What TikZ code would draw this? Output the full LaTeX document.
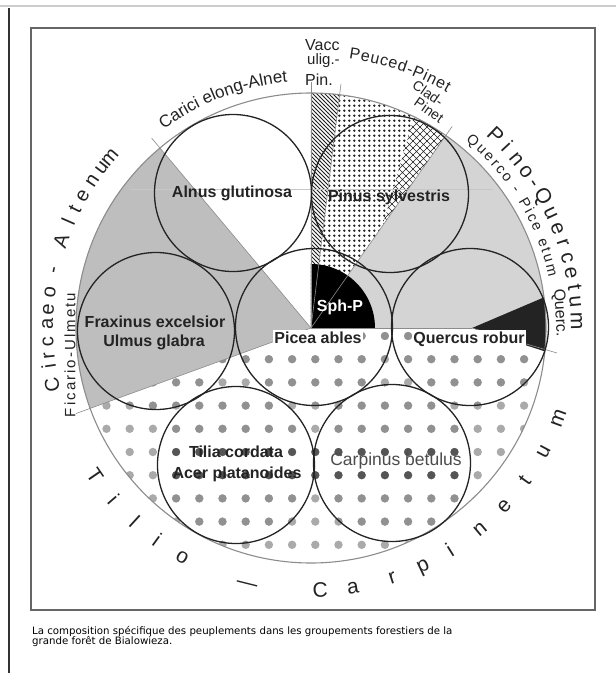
\documentclass[tikz,border=0pt]{standalone}
\usepackage{fontspec}
\setmainfont{Liberation Sans}
\newfontfamily\capfont{DejaVu Sans}
\usetikzlibrary{patterns,decorations.text}

\pgfdeclarepatternformonly{hatchnw}{\pgfqpoint{-1pt}{-1pt}}{\pgfqpoint{5pt}{5pt}}{\pgfqpoint{4pt}{4pt}}{%
  \pgfsetlinewidth{0.75pt}%
  \pgfpathmoveto{\pgfqpoint{0pt}{4pt}}%
  \pgfpathlineto{\pgfqpoint{4.1pt}{-0.1pt}}%
  \pgfusepath{stroke}}
\pgfdeclarepatternformonly{blackdots}{\pgfqpoint{0pt}{0pt}}{\pgfqpoint{4.8pt}{4.8pt}}{\pgfqpoint{4.8pt}{4.8pt}}{%
  \pgfpathcircle{\pgfqpoint{2.4pt}{2.4pt}}{1.35pt}%
  \pgfusepath{fill}}
\pgfdeclarepatternformonly{diagcross}{\pgfqpoint{-0.5pt}{-0.5pt}}{\pgfqpoint{7.5pt}{7.5pt}}{\pgfqpoint{7pt}{7pt}}{%
  \pgfsetlinewidth{0.6pt}%
  \pgfpathmoveto{\pgfqpoint{-0.3pt}{-0.3pt}}\pgfpathlineto{\pgfqpoint{7.3pt}{7.3pt}}%
  \pgfpathmoveto{\pgfqpoint{-0.3pt}{7.3pt}}\pgfpathlineto{\pgfqpoint{7.3pt}{-0.3pt}}%
  \pgfusepath{stroke}}

\definecolor{lgray}{RGB}{190,190,190}
\definecolor{rgray}{RGB}{212,212,212}
\definecolor{dotout}{RGB}{170,170,170}
\definecolor{dotin}{RGB}{145,145,145}
\definecolor{dotdark}{RGB}{85,85,85}
\definecolor{rayc}{RGB}{140,140,140}
\definecolor{ink}{RGB}{35,35,35}

\begin{document}
\begin{tikzpicture}[x=1pt,y=1pt,
  ray/.style={draw=rayc, line width=0.6pt},
  smallc/.style={draw=ink, line width=1.3pt},
  lab/.style={font=\fontsize{16}{16}\selectfont\bfseries, text=ink, inner sep=1pt, anchor=base},
  outl/.style={font=\fontsize{20}{20}\selectfont, text=ink, inner sep=0pt, anchor=base},
  outm/.style={font=\fontsize{16}{16}\selectfont, text=ink, inner sep=0pt},
  capnode/.style={font=\capfont\fontsize{10.2}{10.2}\selectfont, text=black, inner sep=0pt, anchor=base west}
]
\useasboundingbox (-311,-345) rectangle (305,328);
\fill[white] (-311,-345) rectangle (305,328);
\draw[black!20, line width=2pt] (-311,322) -- (305,322);
\draw[black!80, line width=2pt] (-302,320) -- (-302,-345);
\draw[black!60, line width=1.2pt] (-280,300) rectangle (284,-282);

% sectors
\fill[lgray] (0,0) -- (130:235) arc[start angle=130,end angle=200,radius=235] -- cycle;
\fill[rgray] (0,0) -- (55:235) arc[start angle=55,end angle=7.5,radius=235] -- (161,0) -- cycle;
\fill[ink] (161,0) -- (7.5:235) arc[start angle=7.5,end angle=-5.7,radius=235] -- cycle;
\fill[pattern=hatchnw, pattern color=ink] (0,0) -- (90:235) arc[start angle=90,end angle=83,radius=235] -- cycle;
\fill[pattern=blackdots, pattern color=ink] (0,0) -- (83:235) arc[start angle=83,end angle=55,radius=235] -- cycle;
\fill[white] (55:125) -- (64:235) arc[start angle=64,end angle=55,radius=235] -- cycle;
\fill[pattern=diagcross, pattern color=ink] (55:125) -- (64:235) arc[start angle=64,end angle=55,radius=235] -- cycle;
\fill[black] (0,0) -- (64,0) arc[start angle=0,end angle=90,radius=64] -- cycle;

% dotted Tilio-Carpinetum sector
\begin{scope}
  \clip (0,0) -- (200:235) arc[start angle=200,end angle=354.3,radius=235] -- (161,0) -- cycle;
  \foreach \i in {-13,...,10} \foreach \j in {0,...,10}
    \fill[dotout] ({27.5+23.2*\i},{-8-23.2*\j}) circle (4.2);
  \begin{scope}
    \clip (3,1) circle (78.5) (-155,-3) circle (78.5) (159,1) circle (78.5)
          (-75,-137) circle (78.5) (81,-135) circle (78.5);
    \foreach \i in {-13,...,10} \foreach \j in {0,...,10}
      \fill[dotin] ({27.5+23.2*\i},{-8-23.2*\j}) circle (4);
  \end{scope}
  \begin{scope}
    \clip (-75,-137) circle (78.5) (81,-135) circle (78.5);
    \foreach \i in {-13,...,10} \foreach \j in {5,6}
      \fill[dotdark] ({27.5+23.2*\i},{-8-23.2*\j}) circle (4);
  \end{scope}
\end{scope}

\draw[black!22, line width=0.5pt] (-181,139) -- (182,139);

% rays and ticks
\draw[ray] (0,0) -- (90:246);
\draw[ray] (0,0) -- (83:246);
\draw[ray] (0,0) -- (55:246);
\draw[ray] (0,0) -- (130:248);
\draw[ray] (0,0) -- (200:250);
\draw[ray] (0,0) -- (161,0);
\draw[ray] (161,0) -- (246,-25);

% big circle
\draw[black!45, line width=1.1pt] (0,0) circle (235);

% seven circles
\draw[smallc] (3,1) circle (78.5);
\draw[smallc] (-155,-3) circle (78.5);
\draw[smallc] (159,1) circle (78.5);
\draw[smallc] (-78,135) circle (78.5);
\draw[smallc] (79,134) circle (78.5);
\draw[smallc] (-75,-137) circle (78.5);
\draw[smallc] (81,-135) circle (78.5);

% species labels
\node[lab] (alnus) at (-79,131) {Alnus glutinosa};
\node[lab] (pinus) at (78,127) {Pinus sylvestris};
\node[lab] (frax1) at (-156,1) {Fraxinus excelsior};
\node[lab] (frax2) at (-157,-18) {Ulmus glabra};
\node[lab, text=white] (sphp) at (29,17) {Sph-P};
\node[lab, fill=white] (picea) at (7,-15) {Picea ables};
\node[lab, fill=white] (quercus) at (158,-15) {Quercus robur};
\node[lab] (tilia1) at (-75,-129) {Tilia cordata};
\node[lab] (tilia2) at (-74,-150) {Acer platanoides};
\node[lab, font=\fontsize{17.5}{17.5}\selectfont, text=black!70] (carp) at (85,-137) {Carpinus betulus};

% outer labels, letter by letter
\foreach \ch/\a [count=\k] in {C/192.3,i/188.3,r/186.1,c/182.9,a/179.1,e/175.9,o/172.2,-/167.4,A/160.7,l/156.3,t/153.2,e/150,n/146.1,u/142.6,m/139.7}
  \node[outl, rotate=\a-90] (circ\k) at (\a:258) {\ch};
\foreach \ch/\a [count=\k] in {P/46.3,i/42.8,n/39.4,o/36,-/33,Q/29.5,u/25.5,e/22,r/18.6,c/15.3,e/11.9,t/8.7,u/5.6,m/1.6}
  \node[outl, font=\fontsize{21}{21}\selectfont, rotate=\a-90] (pq\k) at (\a:260) {\ch};
\foreach \ch/\a [count=\k] in {T/214.4,i/221,l/227.6,i/234,o/240.7,—/256,C/272,a/279.2,r/288,p/295.2,i/302,n/310,e/317.3,t/324.6,u/332,m/340}
  \node[outl, font=\fontsize{21}{21}\selectfont, rotate=\a+90] (tc\k) at (\a:269) {\ch};

% outer labels along arcs
\path[decorate, decoration={text along path, text align=center, text color=ink,
  text={|\fontsize{17}{17}\selectfont|Carici elong-Alnet}}]
  (128.5:247) arc[start angle=128.5,end angle=93.5,radius=247];
\path[decorate, decoration={text along path, text align=fit to path, text color=ink,
  text={|\fontsize{16}{16}\selectfont|Peuced-Pinet}}]
  (82:272) arc[start angle=82,end angle=60,radius=272];
\path[decorate, decoration={text along path, text align=fit to path, text color=ink,
  text={|\fontsize{14.5}{14.5}\selectfont|Querco - Pice etum}}]
  (50.5:243) arc[start angle=50.5,end angle=12,radius=243];
\path[decorate, decoration={text along path, text align=fit to path, text color=ink,
  text={|\fontsize{15}{15}\selectfont|Ficario-Ulmetu}}]
  (-235.5,-89) -- (-235.5,35);

\node[outm, font=\fontsize{14}{14}\selectfont, rotate=-35] (clad) at (117,235) {Clad-};
\node[outm, font=\fontsize{14}{14}\selectfont, rotate=-35] (pinet) at (118,218) {Pinet};
\node[outm, anchor=base west] (vacc) at (-6,278) {Vacc};
\node[outm, font=\fontsize{15}{15}\selectfont, anchor=base west] (ulig) at (-4,264) {ulig.-};
\node[outm, anchor=base west] (pin) at (-6,243) {Pin.};
\node[outm, rotate=-86.5, anchor=base] (querc) at (3.5:245) {Querc.};

% caption
\node[capnode] (cap1) at (-279,-306) {La composition spécifique des peuplements dans les groupements forestiers de la};
\node[capnode] (cap2) at (-279,-316.5) {grande forêt de Bialowieza.};
\end{tikzpicture}
\end{document}
